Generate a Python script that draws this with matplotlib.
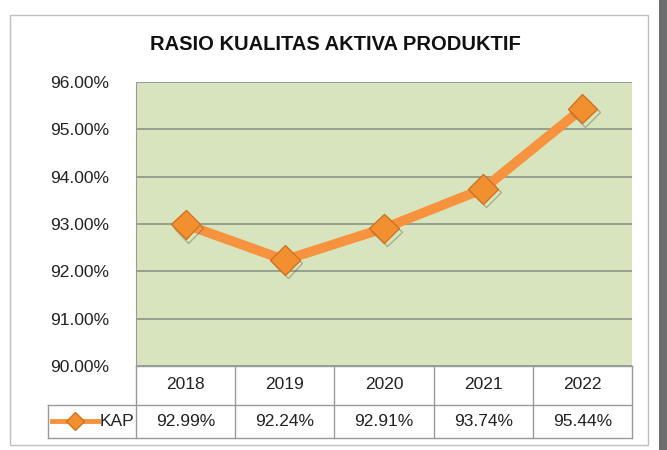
import numpy as np
import matplotlib.pyplot as plt
from matplotlib.patches import Rectangle
import matplotlib.patheffects as pe

years = ['2018', '2019', '2020', '2021', '2022']
kap = [92.99, 92.24, 92.91, 93.74, 95.44]
series_name = 'KAP'
title = 'RASIO KUALITAS AKTIVA PRODUKTIF'

W, H = 667, 450
plt.rcParams['font.family'] = ['Liberation Sans', 'DejaVu Sans']

fig = plt.figure(figsize=(W / 100, H / 100), dpi=100)
fig.patch.set_facecolor('white')

def fx(px):
    return px / W

def fy(py):
    return 1 - py / H

# outer chart frame and right edge bar
fig.patches.append(Rectangle((fx(10), fy(445)), fx(648) - fx(10), fy(15) - fy(445),
                             transform=fig.transFigure, fill=False, edgecolor='#BFBFBF', lw=1))
fig.patches.append(Rectangle((fx(659), 0), 1 - fx(659), 1, transform=fig.transFigure,
                             facecolor='#6E6E6E', edgecolor='none'))

left, right, top, bottom = 136, 632, 82, 366
ax = fig.add_axes([fx(left), fy(bottom), fx(right) - fx(left), fy(top) - fy(bottom)])
ax.set_facecolor('#D7E4BD')
x = np.arange(len(years))
ax.set_xlim(-0.5, len(years) - 0.5)
ax.set_ylim(90, 96)
ax.set_yticks(np.arange(90, 96.5, 1))
ax.set_yticklabels(['%.2f%%' % v for v in np.arange(90, 96.5, 1)], fontsize=12.5, color='#222222')
ax.tick_params(axis='y', length=0, pad=19)
ax.set_xticks([])
ax.grid(axis='y', color='#8A9486', lw=1.2)
ax.set_axisbelow(True)
for s in ax.spines.values():
    s.set_visible(False)
ax.spines['left'].set_visible(True)
ax.spines['left'].set_color('#9A9A9A')

orange = '#F7923E'
shadow = [pe.SimpleLineShadow(offset=(2, -2.5), shadow_color='#6A5A40', alpha=0.4), pe.Normal()]
ax.plot(x, kap, color=orange, lw=7, solid_capstyle='round', zorder=3)
ax.plot(x, kap, ls='none', marker='D', markersize=15, markerfacecolor='#F2902F',
        markeredgecolor='#D27220', markeredgewidth=1, zorder=4, path_effects=shadow)

fig.text(fx(335), fy(45), title, ha='center', va='center', fontsize=14.5, fontweight='bold',
         color='#111111')

# data table under the plot
tb_top, tb_mid, tb_bot = 366, 405, 438
tax = fig.add_axes([fx(left), fy(tb_bot), fx(right) - fx(left), fy(tb_top) - fy(tb_bot)])
tax.set_xlim(-0.5, len(years) - 0.5)
tax.set_ylim(0, 2)
tax.axis('off')
colw = (right - left) / len(years)
leg_l = -0.5 - (left - 48) / colw
gc = '#9A9A9A'
tax.plot([-0.5, len(years) - 0.5], [2, 2], color=gc, lw=1, clip_on=False)
tax.plot([leg_l, len(years) - 0.5], [0.92, 0.92], color=gc, lw=1, clip_on=False)
tax.plot([leg_l, len(years) - 0.5], [0, 0], color=gc, lw=1, clip_on=False)
tax.plot([leg_l, leg_l], [0, 0.92], color=gc, lw=1, clip_on=False)
for i in range(len(years) + 1):
    tax.plot([i - 0.5, i - 0.5], [0, 2], color=gc, lw=1, clip_on=False)
for i, (yr, v) in enumerate(zip(years, kap)):
    tax.text(i, 1.48, yr, ha='center', va='center', fontsize=12.5, color='#222222')
    tax.text(i, 0.46, '%.2f%%' % v, ha='center', va='center', fontsize=12.5, color='#222222')
kx = np.array([leg_l + 0.04, leg_l + 0.5])
tax.plot(kx, [0.46, 0.46], color=orange, lw=3.5, clip_on=False)
tax.plot([kx.mean()], [0.46], ls='none', marker='D', markersize=9, markerfacecolor='#F2902F',
         markeredgecolor='#D27220', clip_on=False)
tax.text(leg_l + 0.52, 0.46, series_name, ha='left', va='center', fontsize=12.5, color='#222222')

fig.savefig('out.png', dpi=100)
